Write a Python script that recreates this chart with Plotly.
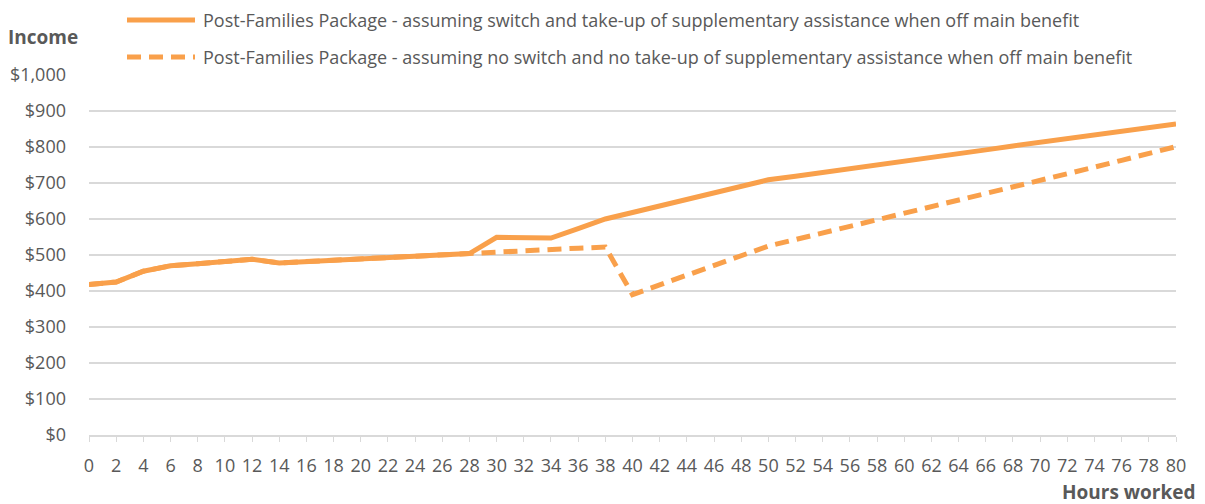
import plotly.graph_objects as go

# hours worked (x categories)
hours = list(range(0, 82, 2))

# weekly income, assuming switch and take-up of supplementary assistance
income_switch = [418, 425, 455, 470, 476, 482, 488, 478, 482, 486, 490, 494, 498, 501,
                 504, 549, 549, 547, 573, 600, 618, 636, 654, 672, 690, 709,
                 719, 729, 739, 749, 760, 770, 781, 792, 803, 813, 823, 834, 844, 854, 864]

# weekly income, assuming no switch and no take-up
income_no_switch = [418, 425, 455, 470, 476, 482, 488, 478, 482, 486, 490, 494, 498, 501,
                    504, 509, 513, 516, 519, 522, 390, 417, 444, 471, 498, 525,
                    543, 561, 579, 597, 615, 634, 652, 670, 689, 707, 725, 744, 763, 782, 801]

legend_labels = [
    "Post-Families Package - assuming switch and take-up of supplementary assistance when off main benefit",
    "Post-Families Package - assuming no switch and no take-up of supplementary assistance when off main benefit",
]

y_ticks = list(range(0, 1100, 100))
y_tick_text = ["$" + format(v, ",") for v in y_ticks]

ORANGE = "#F9A04B"
GREY_TEXT = "#595959"
GRID = "#D9D9D9"
FONT = "Open Sans"

# page body has an 8px margin, so the figure is shrunk by that much
OFF = 8
W, H = 1205 - OFF, 504 - OFF
L, R, T, B = 89 - OFF, 29, 75 - OFF, 69

# plot area in screen pixels
X0, X1, Y0, Y1 = 89, 1176, 75, 435

fig = go.Figure()
fig.add_trace(go.Scatter(x=hours, y=income_switch, mode="lines",
                         line=dict(color=ORANGE, width=5), name=legend_labels[0]))
fig.add_trace(go.Scatter(x=hours, y=income_no_switch, mode="lines",
                         line=dict(color=ORANGE, width=5, dash="14px,8px"), name=legend_labels[1]))

def px(xp):
    return (xp - X0) / (X1 - X0)

def py(yp):
    return 1 - (yp - Y0) / (Y1 - Y0)

# manual legend
for i, (lab, dash) in enumerate(zip(legend_labels, ["solid", "14px,8px"])):
    yp = 20 + i * 37
    fig.add_shape(type="line", xref="paper", yref="paper",
                  x0=px(127), x1=px(195), y0=py(yp), y1=py(yp),
                  line=dict(color=ORANGE, width=5, dash=dash))
    fig.add_annotation(xref="paper", yref="paper", x=px(201), y=py(yp),
                       text=lab, showarrow=False, xanchor="left", yanchor="middle",
                       font=dict(size=18, color=GREY_TEXT, family=FONT))

fig.add_annotation(xref="paper", yref="paper", x=px(6), y=py(37), text="<b>Income</b>",
                   showarrow=False, xanchor="left", yanchor="middle",
                   font=dict(size=19, color=GREY_TEXT, family=FONT))
fig.add_annotation(xref="paper", yref="paper", x=px(1197), y=py(492), text="<b>Hours worked</b>",
                   showarrow=False, xanchor="right", yanchor="middle",
                   font=dict(size=19, color=GREY_TEXT, family=FONT))

fig.update_layout(
    width=W, height=H,
    margin=dict(l=L, r=R, t=T, b=B, autoexpand=False),
    plot_bgcolor="white", paper_bgcolor="white",
    showlegend=False,
    font=dict(family=FONT, size=18, color=GREY_TEXT),
)
fig.update_xaxes(range=[0, 80], tickvals=hours, ticktext=[str(h) for h in hours],
                 showgrid=False, zeroline=False, showline=True, linecolor=GRID, linewidth=1.5,
                 ticks="outside", ticklen=5, tickcolor=GRID, tickwidth=1, automargin=False,
                 ticklabelstandoff=9, tickangle=0, tickfont=dict(size=18, color=GREY_TEXT))
fig.update_yaxes(range=[0, 1000], tickvals=y_ticks, ticktext=y_tick_text,
                 showgrid=True, gridcolor=GRID, gridwidth=1.5, zeroline=False, automargin=False,
                 showline=False, ticks="", ticklabelstandoff=22,
                 tickfont=dict(size=18, color=GREY_TEXT))

fig.write_html("out.html")
